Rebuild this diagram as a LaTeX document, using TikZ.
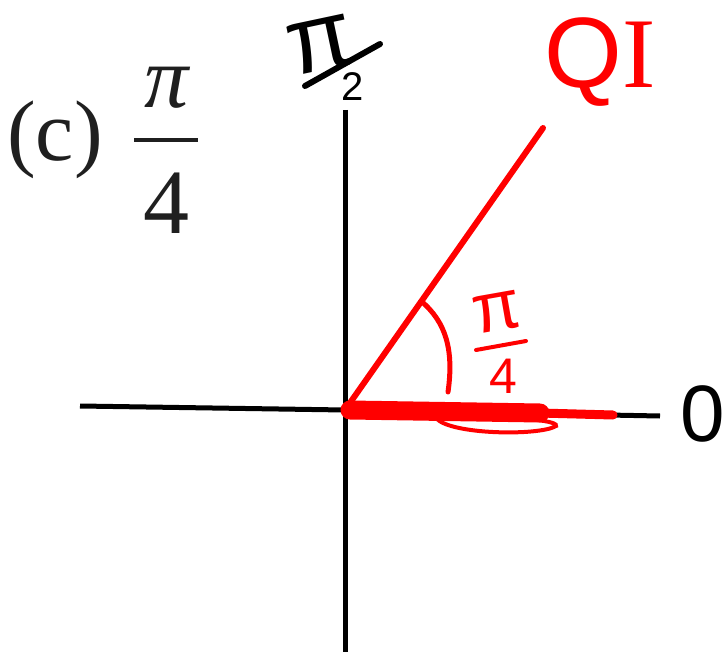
\documentclass[tikz,border=0pt]{standalone}
\usepackage{fontspec}
\setmainfont{Liberation Serif}
\newfontfamily\handfont{Liberation Sans}
\newfontfamily\handserif{Liberation Serif}
\begin{document}
\begin{tikzpicture}[x=1pt,y=-1pt]
\tikzset{
  axisline/.style={line width=5pt, black},
  redpen/.style={red, line width=6pt, line cap=round, line join=round},
  printed/.style={inner sep=0pt, text=black!88},
  handblack/.style={inner sep=0pt, text=black, font=\handfont},
  handred/.style={inner sep=0pt, text=red, font=\handfont},
}
\useasboundingbox (0,0) rectangle (727,652);
% axes
\coordinate (O) at (345,410);
\coordinate (vtop) at (345,110);
\coordinate (vbot) at (345,652);
\coordinate (hleft) at (80,406);
\coordinate (hright) at (660,416);
\draw[axisline] (vtop) -- (vbot);
\draw[axisline] (hleft) -- (O) -- (hright);
% printed label
\node[printed, font=\fontsize{86}{96}\selectfont] (lab) at (55,140) {(c)};
\node[printed, font=\fontsize{88}{96}\selectfont\itshape] (pinum) at (167,88) {π};
\coordinate (fb1) at (134,140);
\coordinate (fb2) at (198,140);
\draw[black!88, line width=4pt] (fb1) -- (fb2);
\node[printed, font=\fontsize{92}{100}\selectfont] (four) at (166,203) {4};
% handwritten pi/2 (black)
\node[handblack, font=\handfont\fontsize{96}{100}\selectfont, rotate=12, anchor=base, text height=0.56em, text depth=0pt] (hpi) at (326,70) {π};
\coordinate (hb1) at (305,86);
\coordinate (hb2) at (380,44);
\draw[black, line width=6pt, line cap=round] (hb1) -- (hb2);
\node[handblack, font=\handfont\fontsize{40}{44}\selectfont, anchor=base, text height=0.72em, text depth=0pt] (htwo) at (353,101) {2};
% handwritten 0 (black)
\node[handblack, font=\handfont\fontsize{80}{86}\selectfont] (zero) at (703,414) {0};
% red terminal side
\coordinate (qtop) at (543,128);
\draw[redpen] (O) -- (qtop);
% red QI
\node[handred, font=\fontsize{100}{106}\selectfont] (qi) at (600,62) {{\handfont Q}{\handserif I}};
% red angle arc
\coordinate (arcA) at (421,301);
\coordinate (arcB) at (448,392);
\draw[red, line width=5pt, line cap=round] (arcA) .. controls (446,322) and (454,350) .. (arcB);
% red pi/4
\node[handred, font=\handfont\fontsize{70}{76}\selectfont, rotate=10] (rpi) at (497,312) {π};
\coordinate (rb1) at (476,350);
\coordinate (rb2) at (526,341);
\draw[red, line width=4pt, line cap=round] (rb1) -- (rb2);
\node[handred, font=\handfont\fontsize{50}{56}\selectfont] (rfour) at (503,376) {4};
% red highlight along the initial side
\coordinate (h1) at (350,410);
\coordinate (h2) at (540,413);
\coordinate (h3) at (613,415);
\draw[red, line width=19pt, line cap=round] (h1) -- (h2);
\draw[red, line width=9pt, line cap=round] (h2) -- (h3);
\draw[red, line width=4pt] (436,418) .. controls (450,435) and (540,436) .. (556,426) .. controls (560,418) and (470,415) .. (436,418);
\end{tikzpicture}
\end{document}
